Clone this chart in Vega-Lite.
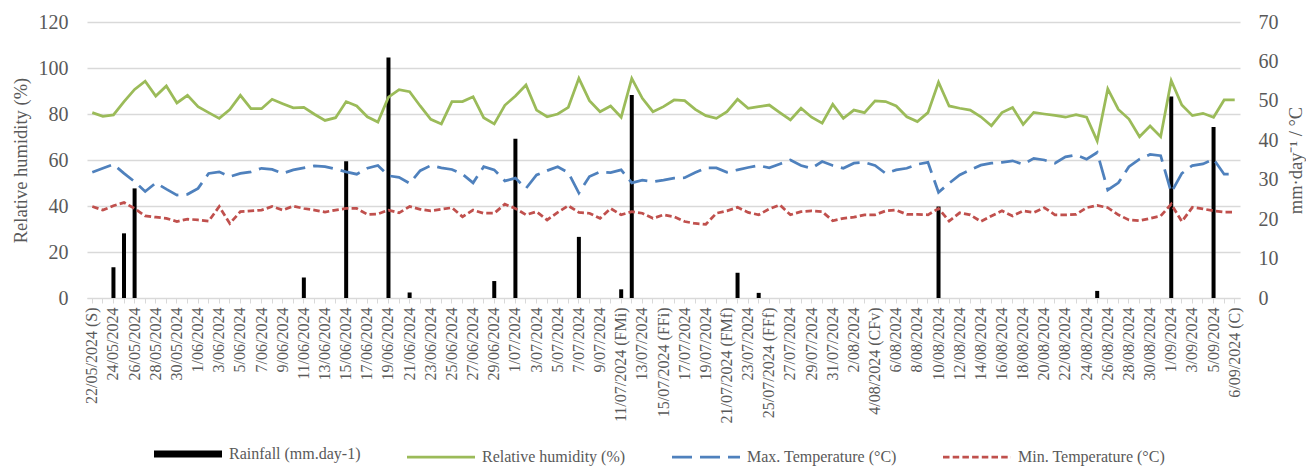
{
 "$schema": "https://vega.github.io/schema/vega-lite/v6.json",
 "width": 1153, "height": 276,
 "autosize": {"type": "none"},
 "padding": {"left": 87, "top": 22, "right": 66, "bottom": 168},
 "background": "white",
 "config": {
  "font": "Liberation Serif",
  "view": {"stroke": null},
  "axis": {"labelFont": "Liberation Serif", "titleFont": "Liberation Serif", "labelColor": "#595959", "titleColor": "#595959", "titleFontWeight": "normal"},
  "legend": {"labelFont": "Liberation Serif", "labelColor": "#595959"}
 },
 "data": {"values": [
  {"d":"22/05/2024 (S)","rain":0,"rh":80.6,"tmax":31.9,"tmin":23.2},
  {"d":"23/05/2024","rain":0,"rh":79.0,"tmax":32.9,"tmin":22.3},
  {"d":"24/05/2024","rain":7.8,"rh":79.6,"tmax":33.9,"tmin":23.4},
  {"d":"25/05/2024","rain":16.4,"rh":85.4,"tmax":31.6,"tmin":24.2},
  {"d":"26/05/2024","rain":27.8,"rh":90.7,"tmax":29.5,"tmin":22.7},
  {"d":"27/05/2024","rain":0,"rh":94.3,"tmax":27.0,"tmin":20.8},
  {"d":"28/05/2024","rain":0,"rh":87.8,"tmax":29.2,"tmin":20.5},
  {"d":"29/05/2024","rain":0,"rh":92.2,"tmax":27.6,"tmin":20.2},
  {"d":"30/05/2024","rain":0,"rh":84.8,"tmax":26.1,"tmin":19.4},
  {"d":"31/05/2024","rain":0,"rh":88.1,"tmax":26.3,"tmin":20.0},
  {"d":"1/06/2024","rain":0,"rh":83.2,"tmax":27.8,"tmin":19.8},
  {"d":"2/06/2024","rain":0,"rh":80.6,"tmax":31.6,"tmin":19.5},
  {"d":"3/06/2024","rain":0,"rh":78.1,"tmax":32.0,"tmin":23.2},
  {"d":"4/06/2024","rain":0,"rh":81.9,"tmax":30.8,"tmin":18.9},
  {"d":"5/06/2024","rain":0,"rh":88.1,"tmax":31.6,"tmin":21.9},
  {"d":"6/06/2024","rain":0,"rh":82.3,"tmax":32.0,"tmin":22.1},
  {"d":"7/06/2024","rain":0,"rh":82.3,"tmax":32.9,"tmin":22.3},
  {"d":"8/06/2024","rain":0,"rh":86.4,"tmax":32.6,"tmin":23.2},
  {"d":"9/06/2024","rain":0,"rh":84.5,"tmax":31.6,"tmin":22.3},
  {"d":"10/06/2024","rain":0,"rh":82.7,"tmax":32.5,"tmin":23.3},
  {"d":"11/06/2024","rain":5.2,"rh":82.9,"tmax":33.0,"tmin":22.7},
  {"d":"12/06/2024","rain":0,"rh":79.9,"tmax":33.5,"tmin":22.3},
  {"d":"13/06/2024","rain":0,"rh":77.2,"tmax":33.3,"tmin":21.8},
  {"d":"14/06/2024","rain":0,"rh":78.4,"tmax":32.7,"tmin":22.3},
  {"d":"15/06/2024","rain":34.7,"rh":85.4,"tmax":32.0,"tmin":22.7},
  {"d":"16/06/2024","rain":0,"rh":83.5,"tmax":31.4,"tmin":22.7},
  {"d":"17/06/2024","rain":0,"rh":78.8,"tmax":32.9,"tmin":21.2},
  {"d":"18/06/2024","rain":0,"rh":76.5,"tmax":33.6,"tmin":21.3},
  {"d":"19/06/2024","rain":61.0,"rh":87.3,"tmax":31.0,"tmin":22.3},
  {"d":"20/06/2024","rain":0,"rh":90.6,"tmax":30.6,"tmin":21.6},
  {"d":"21/06/2024","rain":1.4,"rh":89.7,"tmax":29.1,"tmin":23.2},
  {"d":"22/06/2024","rain":0,"rh":83.5,"tmax":32.3,"tmin":22.5},
  {"d":"23/06/2024","rain":0,"rh":77.7,"tmax":33.6,"tmin":22.1},
  {"d":"24/06/2024","rain":0,"rh":75.7,"tmax":33.0,"tmin":22.5},
  {"d":"25/06/2024","rain":0,"rh":85.4,"tmax":32.6,"tmin":22.9},
  {"d":"26/06/2024","rain":0,"rh":85.4,"tmax":31.4,"tmin":20.6},
  {"d":"27/06/2024","rain":0,"rh":87.5,"tmax":29.2,"tmin":22.3},
  {"d":"28/06/2024","rain":0,"rh":78.4,"tmax":33.3,"tmin":21.5},
  {"d":"29/06/2024","rain":4.3,"rh":75.7,"tmax":32.5,"tmin":21.5},
  {"d":"30/06/2024","rain":0,"rh":83.8,"tmax":29.7,"tmin":23.8},
  {"d":"1/07/2024","rain":40.4,"rh":87.8,"tmax":30.4,"tmin":22.7},
  {"d":"2/07/2024","rain":0,"rh":92.6,"tmax":27.8,"tmin":21.1},
  {"d":"3/07/2024","rain":0,"rh":81.7,"tmax":31.2,"tmin":21.9},
  {"d":"4/07/2024","rain":0,"rh":78.8,"tmax":32.3,"tmin":19.8},
  {"d":"5/07/2024","rain":0,"rh":80.0,"tmax":33.3,"tmin":21.7},
  {"d":"6/07/2024","rain":0,"rh":82.9,"tmax":31.8,"tmin":23.4},
  {"d":"7/07/2024","rain":15.5,"rh":95.5,"tmax":26.6,"tmin":21.7},
  {"d":"8/07/2024","rain":0,"rh":85.8,"tmax":30.8,"tmin":21.5},
  {"d":"9/07/2024","rain":0,"rh":81.0,"tmax":32.0,"tmin":20.2},
  {"d":"10/07/2024","rain":0,"rh":83.5,"tmax":31.8,"tmin":22.7},
  {"d":"11/07/2024 (FMi)","rain":2.2,"rh":78.6,"tmax":32.5,"tmin":21.1},
  {"d":"12/07/2024","rain":51.5,"rh":95.5,"tmax":29.2,"tmin":21.9},
  {"d":"13/07/2024","rain":0,"rh":86.8,"tmax":29.9,"tmin":21.5},
  {"d":"14/07/2024","rain":0,"rh":81.0,"tmax":29.5,"tmin":20.2},
  {"d":"15/07/2024 (FFi)","rain":0,"rh":83.2,"tmax":29.9,"tmin":21.1},
  {"d":"16/07/2024","rain":0,"rh":86.1,"tmax":30.4,"tmin":20.6},
  {"d":"17/07/2024","rain":0,"rh":85.8,"tmax":30.5,"tmin":19.4},
  {"d":"18/07/2024","rain":0,"rh":82.0,"tmax":31.8,"tmin":18.9},
  {"d":"19/07/2024","rain":0,"rh":79.3,"tmax":33.0,"tmin":18.7},
  {"d":"20/07/2024","rain":0,"rh":78.1,"tmax":33.0,"tmin":21.5},
  {"d":"21/07/2024 (FMf)","rain":0,"rh":81.0,"tmax":31.9,"tmin":22.1},
  {"d":"22/07/2024","rain":6.4,"rh":86.4,"tmax":32.5,"tmin":23.0},
  {"d":"23/07/2024","rain":0,"rh":82.5,"tmax":33.1,"tmin":21.7},
  {"d":"24/07/2024","rain":1.3,"rh":83.2,"tmax":33.6,"tmin":21.1},
  {"d":"25/07/2024 (FFf)","rain":0,"rh":83.9,"tmax":33.0,"tmin":22.6},
  {"d":"26/07/2024","rain":0,"rh":80.6,"tmax":34.0,"tmin":23.6},
  {"d":"27/07/2024","rain":0,"rh":77.4,"tmax":35.0,"tmin":21.1},
  {"d":"28/07/2024","rain":0,"rh":82.5,"tmax":33.6,"tmin":21.9},
  {"d":"29/07/2024","rain":0,"rh":78.6,"tmax":32.9,"tmin":22.1},
  {"d":"30/07/2024","rain":0,"rh":76.0,"tmax":34.6,"tmin":21.9},
  {"d":"31/07/2024","rain":0,"rh":84.2,"tmax":33.6,"tmin":19.6},
  {"d":"1/08/2024","rain":0,"rh":78.1,"tmax":32.9,"tmin":20.2},
  {"d":"2/08/2024","rain":0,"rh":81.7,"tmax":34.2,"tmin":20.5},
  {"d":"3/08/2024","rain":0,"rh":80.6,"tmax":34.4,"tmin":21.1},
  {"d":"4/08/2024 (CFv)","rain":0,"rh":85.7,"tmax":33.6,"tmin":21.1},
  {"d":"5/08/2024","rain":0,"rh":85.4,"tmax":31.6,"tmin":22.1},
  {"d":"6/08/2024","rain":0,"rh":83.5,"tmax":32.5,"tmin":22.3},
  {"d":"7/08/2024","rain":0,"rh":78.8,"tmax":32.9,"tmin":21.2},
  {"d":"8/08/2024","rain":0,"rh":76.7,"tmax":33.9,"tmin":21.2},
  {"d":"9/08/2024","rain":0,"rh":80.6,"tmax":34.4,"tmin":21.1},
  {"d":"10/08/2024","rain":23.2,"rh":93.8,"tmax":26.8,"tmin":22.7},
  {"d":"11/08/2024","rain":0,"rh":83.5,"tmax":29.1,"tmin":19.5},
  {"d":"12/08/2024","rain":0,"rh":82.5,"tmax":31.2,"tmin":21.6},
  {"d":"13/08/2024","rain":0,"rh":81.7,"tmax":32.5,"tmin":21.1},
  {"d":"14/08/2024","rain":0,"rh":78.8,"tmax":33.7,"tmin":19.4},
  {"d":"15/08/2024","rain":0,"rh":74.9,"tmax":34.2,"tmin":20.8},
  {"d":"16/08/2024","rain":0,"rh":80.6,"tmax":34.4,"tmin":22.1},
  {"d":"17/08/2024","rain":0,"rh":82.8,"tmax":34.8,"tmin":20.8},
  {"d":"18/08/2024","rain":0,"rh":75.5,"tmax":33.9,"tmin":22.1},
  {"d":"19/08/2024","rain":0,"rh":80.7,"tmax":35.4,"tmin":21.7},
  {"d":"20/08/2024","rain":0,"rh":80.0,"tmax":35.0,"tmin":22.9},
  {"d":"21/08/2024","rain":0,"rh":79.4,"tmax":34.2,"tmin":21.1},
  {"d":"22/08/2024","rain":0,"rh":78.6,"tmax":35.8,"tmin":21.1},
  {"d":"23/08/2024","rain":0,"rh":79.7,"tmax":36.3,"tmin":21.2},
  {"d":"24/08/2024","rain":0,"rh":78.6,"tmax":35.2,"tmin":22.9},
  {"d":"25/08/2024","rain":1.8,"rh":68.3,"tmax":36.9,"tmin":23.5},
  {"d":"26/08/2024","rain":0,"rh":90.9,"tmax":27.4,"tmin":22.9},
  {"d":"27/08/2024","rain":0,"rh":82.0,"tmax":29.2,"tmin":21.1},
  {"d":"28/08/2024","rain":0,"rh":77.8,"tmax":33.3,"tmin":19.8},
  {"d":"29/08/2024","rain":0,"rh":70.1,"tmax":35.2,"tmin":19.6},
  {"d":"30/08/2024","rain":0,"rh":74.8,"tmax":36.4,"tmin":20.2},
  {"d":"31/08/2024","rain":0,"rh":70.1,"tmax":36.1,"tmin":20.8},
  {"d":"1/09/2024","rain":51.1,"rh":94.5,"tmax":26.8,"tmin":23.8},
  {"d":"2/09/2024","rain":0,"rh":83.9,"tmax":31.6,"tmin":19.4},
  {"d":"3/09/2024","rain":0,"rh":79.3,"tmax":33.6,"tmin":23.0},
  {"d":"4/09/2024","rain":0,"rh":80.3,"tmax":34.0,"tmin":22.6},
  {"d":"5/09/2024","rain":43.4,"rh":78.6,"tmax":35.2,"tmin":22.1},
  {"d":"6/09/2024","rain":0,"rh":86.1,"tmax":31.4,"tmin":21.8},
  {"d":"6/09/2024 (C)","rain":0,"rh":86.1,"tmax":31.4,"tmin":21.8}
 ]},
 "layer": [
  {"mark": {"type": "bar", "width": 4},
   "encoding": {
    "x": {"field": "d", "type": "ordinal", "sort": null,
     "scale": {"type": "band", "paddingInner": 0, "paddingOuter": 0},
     "axis": {"title": null, "labelAngle": -90, "labelFontSize": 16, "labelPadding": 4, "tickSize": 5, "tickColor": "#D9D9D9", "domainColor": "#D9D9D9", "grid": false, "labelOverlap": false, "labelLimit": 300,
      "labelExpr": "indexof(datum.value, '(') >= 0 || round((datetime(2024, toNumber(split(datum.value, '/')[1]) - 1, toNumber(split(datum.value, '/')[0])) - datetime(2024, 4, 22)) / 86400000) % 2 == 0 ? datum.value : ''"}},
    "y": {"field": "rain", "type": "quantitative", "scale": {"domain": [0, 70], "nice": false},
     "axis": {"orient": "right", "title": "mm·day⁻¹ / °C", "titleFontSize": 18.5, "labelFontSize": 20, "values": [0,10,20,30,40,50,60,70], "grid": false, "domain": false, "ticks": false, "labelPadding": 18, "titlePadding": 8, "titleAngle": 270, "titleBaseline": "top"}},
    "color": {"datum": "Rainfall (mm.day-1)",
     "scale": {"domain": ["Rainfall (mm.day-1)", "Relative humidity (%)", "Max. Temperature (°C)", "Min. Temperature (°C)"], "range": ["#000000", "#9BBB59", "#4F81BD", "#C0504D"]},
     "legend": {"title": null, "orient": "none", "legendX": 93, "legendY": 424, "direction": "horizontal", "symbolType": "stroke", "symbolSize": 4624, "symbolStrokeWidth": 3, "labelFontSize": 16, "labelOffset": 33, "columnPadding": 40, "labelLimit": 300,
      "encode": {"symbols": {"update": {"stroke": {"scale": "color", "field": "value"}, "strokeWidth": {"signal": "datum.value === 'Rainfall (mm.day-1)' ? 7 : 2.75"}, "strokeDash": {"signal": "datum.value === 'Max. Temperature (°C)' ? [20,8] : datum.value === 'Min. Temperature (°C)' ? [6.5,3.2] : [1,0]"}}}}}}
   }},
  {"mark": {"type": "line", "strokeWidth": 2.75},
   "encoding": {
    "x": {"field": "d", "type": "ordinal", "sort": null},
    "y": {"field": "rh", "type": "quantitative", "scale": {"domain": [0, 120], "nice": false},
     "axis": {"orient": "left", "title": "Relative humidity (%)", "titleFontSize": 18.5, "labelFontSize": 20, "values": [0,20,40,60,80,100,120], "grid": true, "gridColor": "#D9D9D9", "gridWidth": 1.3, "domain": false, "ticks": false, "labelPadding": 19, "titlePadding": 8}},
    "color": {"datum": "Relative humidity (%)"}
   }},
  {"mark": {"type": "line", "strokeWidth": 2.75, "strokeDash": [20, 8]},
   "encoding": {
    "x": {"field": "d", "type": "ordinal", "sort": null},
    "y": {"field": "tmax", "type": "quantitative", "scale": {"domain": [0, 70], "nice": false}, "axis": null},
    "color": {"datum": "Max. Temperature (°C)"}
   }},
  {"mark": {"type": "line", "strokeWidth": 2.75, "strokeDash": [6.5, 3.2]},
   "encoding": {
    "x": {"field": "d", "type": "ordinal", "sort": null},
    "y": {"field": "tmin", "type": "quantitative", "scale": {"domain": [0, 70], "nice": false}, "axis": null},
    "color": {"datum": "Min. Temperature (°C)"}
   }}
 ],
 "resolve": {"scale": {"y": "independent"}}
}
